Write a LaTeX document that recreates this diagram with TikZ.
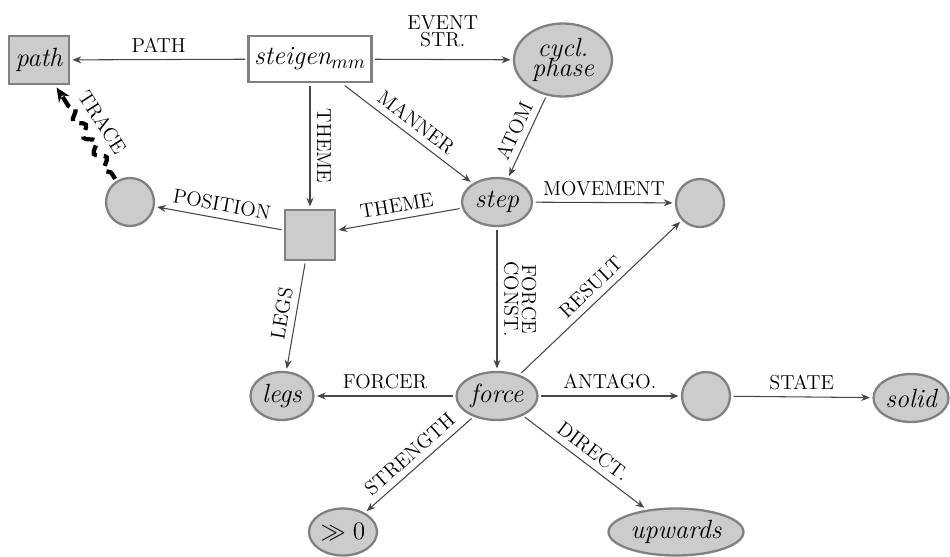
\documentclass[tikz,border=0pt]{standalone}
\usetikzlibrary{shapes.geometric,arrows.meta,decorations.pathmorphing}
\definecolor{nodefill}{RGB}{204,204,204}
\definecolor{nodeline}{RGB}{128,128,128}
\definecolor{edgeline}{RGB}{70,70,70}
\begin{document}
\begin{tikzpicture}[x=0.02cm,y=-0.02cm,
  concept/.style={draw=nodeline, line width=1.3pt, fill=nodefill, inner sep=0pt, outer sep=2pt,
    font=\fontsize{15}{15}\selectfont\itshape, align=center},
  boxnode/.style={concept, rectangle},
  ellnode/.style={concept, ellipse},
  circnode/.style={concept, circle, minimum size=0.96cm},
  edge/.style={draw=edgeline, line width=0.6pt, -{Stealth[length=5pt,width=4pt]}},
  lbl/.style={font=\fontsize{11.5}{12}\selectfont, text=black, inner sep=2.5pt, outer sep=1.5pt, align=center},
  trace/.style={draw=black, line width=2.4pt, dash pattern=on 7pt off 4pt,
    decorate, decoration={snake, amplitude=2.6pt, segment length=11pt, pre length=4pt, post length=7pt},
    -{Stealth[length=8pt,width=7pt]}}
]
\useasboundingbox (0,0) rectangle (950,557);

% nodes
\node[boxnode, minimum width=1.2cm, minimum height=0.96cm] (path) at (39,60) {path};
\node[boxnode, fill=white, minimum width=2.46cm, minimum height=0.92cm] (steigen) at (310,59) {steigen$_{mm}$};
\node[ellnode, minimum width=1.96cm, minimum height=1.46cm] (cycl) at (563,60) {cycl.\\[-4pt]phase};
\node[ellnode, minimum width=1.4cm, minimum height=0.96cm] (step) at (497,202) {step};
\node[circnode] (move) at (700,203) {};
\node[circnode] (pos) at (130,202) {};
\node[boxnode, minimum size=1.0cm] (theme) at (310,235) {};
\node[ellnode, minimum width=1.26cm, minimum height=0.96cm] (legs) at (282,396) {legs};
\node[ellnode, minimum width=1.62cm, minimum height=0.96cm] (force) at (497,396) {force};
\node[circnode] (antago) at (706,396) {};
\node[ellnode, minimum width=1.5cm, minimum height=0.96cm] (solid) at (911,398) {solid};
\node[ellnode, minimum width=1.36cm, minimum height=0.94cm, font=\fontsize{15}{15}\selectfont] (gg) at (343,532) {$\gg 0$};
\node[ellnode, minimum width=2.7cm, minimum height=0.94cm] (up) at (676,532) {upwards};

% connectors
\draw[edge] (steigen) -- node[lbl, above] {PATH} (path);
\draw[edge] (steigen) -- node[lbl, above=3pt] {EVENT\\[-2pt]STR.} (cycl);
\draw[edge] (steigen) -- node[lbl, sloped, above] {MANNER} (step);
\draw[edge] (steigen) -- node[lbl, rotate=-90, anchor=south] {THEME} (theme);
\draw[edge] (cycl) -- node[lbl, sloped, above] {ATOM} (step);
\draw[edge] (step) -- node[lbl, above] {MOVEMENT} (move);
\draw[edge] (step) -- node[lbl, sloped, above] {THEME} (theme);
\draw[edge] (theme) -- node[lbl, sloped, above] {POSITION} (pos);
\draw[trace] (pos) -- (path);
\path (pos) -- node[lbl, sloped, above=3pt] {TRACE} (path);
\draw[edge] (theme) -- node[lbl, sloped, above] {LEGS} (legs);
\draw[edge] (step) -- node[lbl, rotate=-90, anchor=south] {FORCE\\[-2pt]CONST.} (force);
\draw[edge] (force) -- node[lbl, sloped, above] {RESULT} (move);
\draw[edge] (force) -- node[lbl, above] {FORCER} (legs);
\draw[edge] (force) -- node[lbl, above] {ANTAGO.} (antago);
\draw[edge] (antago) -- node[lbl, above] {STATE} (solid);
\draw[edge] (force) -- node[lbl, sloped, above] {STRENGTH} (gg);
\draw[edge] (force) -- node[lbl, sloped, above] {DIRECT.} (up);
\end{tikzpicture}
\end{document}
